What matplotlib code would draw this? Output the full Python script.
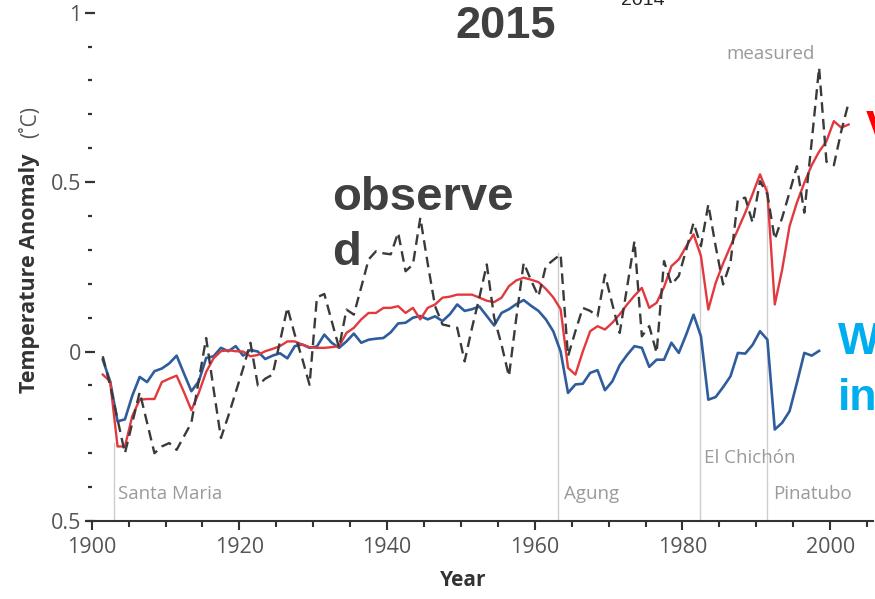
import numpy as np
import matplotlib
matplotlib.use("Agg")
import matplotlib.pyplot as plt
from matplotlib.ticker import FixedLocator, FixedFormatter, MultipleLocator

# Annual temperature anomalies (deg C), plotted at mid-year
years_measured = list(range(1901, 2003))
measured = [
    -0.014, -0.10, -0.20, -0.30, -0.21, -0.12, -0.21, -0.30, -0.28, -0.27,
    -0.29, -0.25, -0.21, -0.085, 0.04, -0.11, -0.255, -0.19, -0.12, -0.05,
    0.026, -0.10, -0.08, -0.068, 0.03, 0.13, 0.05, -0.02, -0.098, 0.16,
    0.17, 0.09, 0.011, 0.124, 0.109, 0.19, 0.272, 0.296, 0.29, 0.287,
    0.351, 0.237, 0.257, 0.395, 0.26, 0.134, 0.08, 0.075, 0.07, -0.029,
    0.07, 0.16, 0.257, 0.10, 0.02, -0.073, 0.10, 0.262, 0.21, 0.163,
    0.252, 0.27, 0.287, -0.014, 0.06, 0.129, 0.12, 0.104, 0.227, 0.14,
    0.055, 0.19, 0.326, 0.045, 0.075, -0.004, 0.267, 0.198, 0.223, 0.30,
    0.38, 0.311, 0.434, 0.31, 0.198, 0.262, 0.449, 0.454, 0.38, 0.503,
    0.464, 0.331, 0.395, 0.47, 0.547, 0.41, 0.62, 0.838, 0.56, 0.55,
    0.65, 0.735,
]

years_all_forcings = list(range(1901, 2003))
all_forcings = [
    -0.068, -0.088, -0.28, -0.28, -0.19, -0.142, -0.14, -0.14, -0.09, -0.08,
    -0.071, -0.12, -0.173, -0.122, -0.06, -0.02, 0.001, 0.004, 0.001, 0.0,
    -0.014, -0.01, 0.001, 0.008, 0.016, 0.03, 0.03, 0.021, 0.013, 0.011,
    0.011, 0.013, 0.016, 0.055, 0.07, 0.095, 0.114, 0.114, 0.129, 0.129,
    0.134, 0.114, 0.129, 0.095, 0.129, 0.139, 0.159, 0.162, 0.168, 0.168,
    0.168, 0.159, 0.15, 0.146, 0.159, 0.193, 0.21, 0.218, 0.212, 0.205,
    0.185, 0.16, 0.125, -0.048, -0.068, 0.0, 0.06, 0.075, 0.065, 0.085,
    0.11, 0.139, 0.165, 0.188, 0.129, 0.144, 0.19, 0.252, 0.272, 0.31,
    0.346, 0.282, 0.124, 0.203, 0.26, 0.311, 0.36, 0.41, 0.465, 0.523,
    0.469, 0.139, 0.242, 0.37, 0.44, 0.498, 0.55, 0.59, 0.621, 0.68,
    0.661, 0.67,
]

years_natural = list(range(1901, 1999))
natural = [
    -0.024, -0.088, -0.206, -0.20, -0.13, -0.075, -0.09, -0.058, -0.05, -0.035,
    -0.012, -0.065, -0.117, -0.088, -0.019, -0.014, 0.011, 0.001, 0.016, -0.012,
    0.005, 0.0, -0.022, -0.012, -0.005, -0.02, 0.016, 0.021, 0.011, 0.015,
    0.05, 0.026, 0.011, 0.03, 0.053, 0.026, 0.035, 0.038, 0.04, 0.057,
    0.083, 0.085, 0.10, 0.105, 0.095, 0.104, 0.09, 0.11, 0.139, 0.12,
    0.125, 0.133, 0.105, 0.077, 0.114, 0.125, 0.14, 0.152, 0.135, 0.12,
    0.095, 0.06, 0.0, -0.122, -0.097, -0.095, -0.063, -0.055, -0.114, -0.088,
    -0.04, -0.01, 0.016, 0.011, -0.045, -0.024, -0.024, 0.026, -0.004, 0.05,
    0.109, 0.045, -0.142, -0.134, -0.105, -0.073, -0.004, -0.006, 0.02, 0.06,
    0.035, -0.23, -0.21, -0.176, -0.092, -0.004, -0.012, 0.002,
]

# Major volcanic eruptions
volcano_names = ["Santa Maria", "Agung", "El Chichón", "Pinatubo"]
volcano_years = [1903.0, 1963.2, 1982.4, 1991.5]
volcano_line_tops = [-0.27, 0.29, 0.30, 0.49]

y_tick_values = [-0.5, 0.0, 0.5, 1.0]
y_tick_labels = ["0.5", "0", "0.5", "1"]
x_tick_values = [1900, 1920, 1940, 1960, 1980, 2000]

W, H = 875, 599
fig = plt.figure(figsize=(W / 100, H / 100), dpi=100)
ax = fig.add_axes([88 / W, 78 / H, 785 / W, 508.3 / H])

label_font = "Open Sans"
tick_gray = "#555555"
note_gray = "#9a9a9a"

# eruption markers
for vy, top in zip(volcano_years, volcano_line_tops):
    ax.plot([vy, vy], [-0.5, top], color="#cdcdcd", lw=1.0, zorder=1,
            clip_on=False)

ax.plot(np.array(years_natural) + 0.5, natural, color="#2f5c9c", lw=1.9,
        zorder=3)
ax.plot(np.array(years_all_forcings) + 0.5, all_forcings, color="#e2393f",
        lw=1.7, zorder=4)
ax.plot(np.array(years_measured) + 0.5, measured, color="#3a3a3a", lw=1.7,
        linestyle=(0, (4.5, 2.6)), zorder=5)

ax.set_xlim(1899.5, 2005.8)
ax.set_ylim(-0.5, 1.0)

for side in ("top", "right", "left"):
    ax.spines[side].set_visible(False)
ax.spines["bottom"].set_color("#333333")
ax.spines["bottom"].set_linewidth(1.5)
ax.spines["left"].set_position(("data", 1899.8))

ax.xaxis.set_major_locator(FixedLocator(x_tick_values))
ax.xaxis.set_minor_locator(MultipleLocator(5))
ax.yaxis.set_major_locator(FixedLocator(y_tick_values))
ax.yaxis.set_major_formatter(FixedFormatter(y_tick_labels))
ax.yaxis.set_minor_locator(MultipleLocator(0.1))

ax.tick_params(axis="x", which="major", direction="out", length=6.5,
               width=1.5, color="#333333", pad=5, labelsize=15.5,
               labelcolor=tick_gray)
ax.tick_params(axis="x", which="minor", direction="out", length=4,
               width=1.5, color="#333333")
ax.tick_params(axis="y", which="major", direction="inout", length=6.5,
               width=1.6, color="#333333", pad=3, labelsize=15.5,
               labelcolor=tick_gray)
ax.tick_params(axis="y", which="minor", direction="inout", length=3.5,
               width=1.6, color="#333333")
for lab in ax.get_xticklabels() + ax.get_yticklabels():
    lab.set_fontfamily(label_font)

# eruption names
for name, nx, ny in zip(volcano_names,
                        [1903.6, 1964.0, 1982.9, 1992.3],
                        [-0.436, -0.436, -0.33, -0.436]):
    ax.text(nx, ny, name, fontsize=13.5, color=note_gray,
            family=label_font, va="baseline", ha="left")
ax.text(1986.0, 0.862, "measured", fontsize=13.5, color=note_gray,
        family=label_font, va="baseline", ha="left")

# axis titles
fig.text(463 / W, 1 - 580 / H, "Year", fontsize=15, fontweight="bold",
         family=label_font, color="#333333", ha="center", va="center")
fig.text(30 / W, 1 - 273 / H, "Temperature Anomaly", fontsize=15.5,
         fontweight="bold", family=label_font, color="#333333",
         rotation=90, ha="center", va="center")
fig.text(31 / W, 1 - 122 / H, "(˚C)", fontsize=15, family=label_font,
         color="#555555", rotation=90, ha="center", va="center")

# headline words
head = "Liberation Sans"
fig.text(455 / W, 1 - 38 / H, "2015", fontsize=32.5, fontweight="bold",
         family=head, color="#404040", ha="left", va="baseline")
fig.text(621 / W, 1 - 5 / H, "2014", fontsize=14, family=head,
         color="#222222", ha="left", va="baseline")
fig.text(332 / W, 1 - 210 / H, "observe", fontsize=34, fontweight="bold",
         family=head, color="#404040", ha="left", va="baseline")
fig.text(332 / W, 1 - 265 / H, "d", fontsize=34, fontweight="bold",
         family=head, color="#404040", ha="left", va="baseline")
fig.text(866 / W, 1 - 142 / H, "V", fontsize=32, fontweight="bold",
         family=head, color="#ff0000", ha="left", va="baseline")
fig.text(838 / W, 1 - 354 / H, "W", fontsize=32, fontweight="bold",
         family=head, color="#00aeef", ha="left", va="baseline")
fig.text(838 / W, 1 - 410 / H, "in", fontsize=32, fontweight="bold",
         family=head, color="#00aeef", ha="left", va="baseline")

fig.savefig("out.png", dpi=100)
